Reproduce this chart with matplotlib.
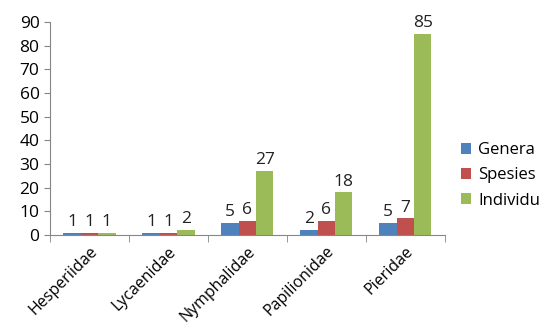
import numpy as np
import matplotlib.pyplot as plt

famili = ["Hesperiidae", "Lycaenidae", "Nymphalidae", "Papilionidae", "Pieridae"]
genera = [1, 1, 5, 2, 5]
spesies = [1, 1, 6, 6, 7]
individu = [1, 2, 27, 18, 85]

plt.rcParams['font.family'] = ['Open Sans', 'DejaVu Sans']

fig = plt.figure(figsize=(5.53, 3.31), dpi=100)
ax = fig.add_axes([0.0904, 0.29, 0.714, 0.6435])

x = np.arange(len(famili))
w = 0.22
warna = ["#4F81BD", "#C0504D", "#9BBB59"]
seri = [("Genera", genera), ("Spesies", spesies), ("Individu", individu)]
for i, (nama, val) in enumerate(seri):
    b = ax.bar(x + (i - 1) * w, val, w, color=warna[i], label=nama)
    ax.bar_label(b, padding=2, fontsize=12.5, color="#222222")

ax.set_xlim(-0.5, len(famili) - 0.5)
ax.set_ylim(0, 90)
ax.set_yticks(range(0, 91, 10))
ax.set_xticks(x)
ax.set_xticklabels(famili, rotation=45, ha="right", rotation_mode="anchor", fontsize=11.5)
ax.set_xticks(np.arange(-0.5, len(famili)), minor=True)
ax.tick_params(axis="x", which="major", length=0, pad=6)
ax.tick_params(axis="x", which="minor", length=5, color="#868686")
ax.tick_params(axis="y", length=4, color="#868686", labelsize=12.5)

for s in ["top", "right"]:
    ax.spines[s].set_visible(False)
for s in ["left", "bottom"]:
    ax.spines[s].set_color("#868686")

ax.legend(loc="center left", bbox_to_anchor=(1.0, 0.28), frameon=False,
          fontsize=12, handlelength=0.6, handleheight=0.6, handletextpad=0.4,
          labelspacing=0.55, borderaxespad=0.6)

fig.savefig("out.png", dpi=100)
